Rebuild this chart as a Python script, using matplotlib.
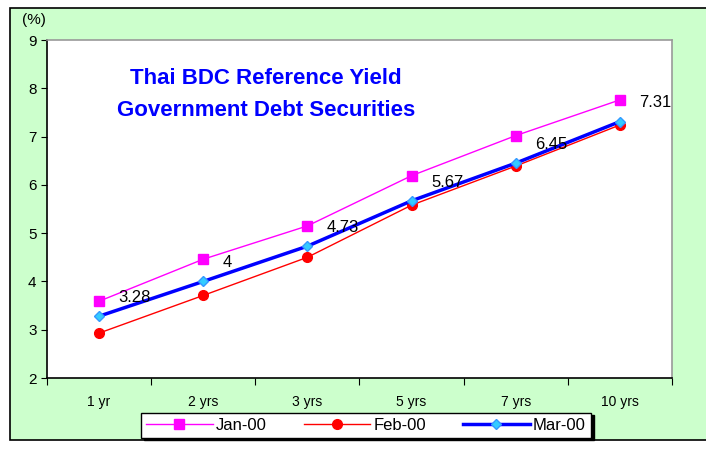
import matplotlib.pyplot as plt
import matplotlib.patches as mpatches
import numpy as np

plt.rcParams['font.family'] = ['Liberation Sans', 'DejaVu Sans']

maturities = ['1 yr', '2 yrs', '3 yrs', '5 yrs', '7 yrs', '10 yrs']
jan = [3.59, 4.46, 5.15, 6.19, 7.02, 7.76]
feb = [2.93, 3.71, 4.50, 5.58, 6.39, 7.24]
mar = [3.28, 4.00, 4.73, 5.67, 6.45, 7.31]
mar_labels = ['3.28', '4', '4.73', '5.67', '6.45', '7.31']

fig = plt.figure(figsize=(7.06, 4.49), dpi=100)
fig.patch.set_facecolor('white')

# green panel with black frame
panel = mpatches.Rectangle((10 / 706, 1 - 440 / 449), 1.0, (440 - 8) / 449,
                           transform=fig.transFigure, facecolor='#ccffcc',
                           edgecolor='black', linewidth=1.2, zorder=-5)
fig.patches.append(panel)

ax = fig.add_axes([47 / 706, 1 - 378 / 449, (672 - 47) / 706, (378 - 40) / 449])
ax.set_facecolor('white')

x = np.arange(len(maturities))
ax.plot(x, jan, color='#ff00ff', lw=1, marker='s', ms=7, mfc='#ff00ff', mec='#ff00ff', label='Jan-00', zorder=3)
ax.plot(x, feb, color='#ff0000', lw=1, marker='o', ms=7, mfc='#ff0000', mec='#ff0000', label='Feb-00', zorder=3)
ax.plot(x, mar, color='#0000ff', lw=2.5, marker='D', ms=5.5, mfc='#33ccff', mec='#3399ff', label='Mar-00', zorder=4)

for xi, yi, t in zip(x, mar, mar_labels):
    ax.annotate(t, (xi, yi), xytext=(14, 8), textcoords='offset points',
                fontsize=12, color='black', va='bottom', ha='left', zorder=5)

ax.set_xlim(-0.5, len(maturities) - 0.5)
ax.set_ylim(2, 9)
ax.set_yticks(range(2, 10))
ax.tick_params(axis='y', labelsize=11, length=4, direction='out')
ax.set_xticks(np.arange(-0.5, len(maturities), 1.0))
ax.set_xticklabels([])
ax.set_xticks(x, minor=True)
ax.set_xticklabels(maturities, minor=True)
ax.tick_params(axis='x', which='major', length=5, direction='out')
ax.tick_params(axis='x', which='minor', length=0, labelsize=10, pad=12)

for side in ['left', 'bottom']:
    ax.spines[side].set_color('black')
    ax.spines[side].set_linewidth(1.2)
for side in ['top', 'right']:
    ax.spines[side].set_color('#999999')
    ax.spines[side].set_linewidth(1.2)

fig.text(22 / 706, 1 - 20 / 449, '(%)', fontsize=11, ha='left', va='center')

ax.text(0.35, 0.885, 'Thai BDC Reference Yield', transform=ax.transAxes,
        fontsize=16, fontweight='bold', color='#0000ff', ha='center', va='center')
ax.text(0.35, 0.79, 'Government Debt Securities', transform=ax.transAxes,
        fontsize=16, fontweight='bold', color='#0000ff', ha='center', va='center')

leg = fig.legend(loc='center', bbox_to_anchor=(366 / 706, 1 - 425 / 449), ncol=3,
                 fontsize=12, frameon=True, fancybox=False,
                 shadow={'color': 'black', 'alpha': 1.0},
                 handlelength=4.0, columnspacing=2.2, borderpad=0.3,
                 handletextpad=0.2)
leg.get_frame().set_edgecolor('black')
leg.get_frame().set_linewidth(1.0)

fig.savefig('out.png', dpi=100)
